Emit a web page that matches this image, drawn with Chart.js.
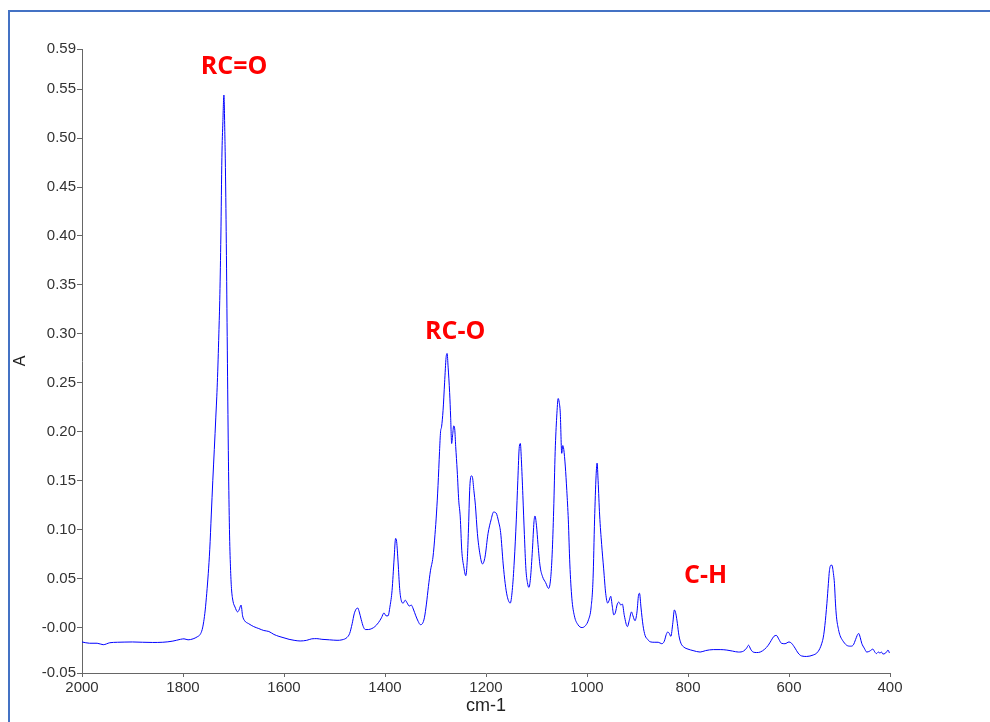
<!DOCTYPE html>
<html>
<head>
<meta charset="utf-8">
<title>IR spectrum</title>
<script src="https://cdn.jsdelivr.net/npm/chart.js@4.4.0/dist/chart.umd.min.js"></script>
<style>
  html, body { margin: 0; padding: 0; background: #fff; }
  #wrap { position: relative; width: 990px; height: 722px; overflow: hidden; }
  #frame { position: absolute; left: 8px; top: 10px; width: 1000px; height: 800px;
           border-top: 2px solid #4472C4; border-left: 2px solid #4472C4; }
  #spectrum { position: absolute; left: 0; top: 0; }
</style>
</head>
<body>
<div id="wrap">
  <div id="frame"></div>
  <canvas id="spectrum" width="990" height="722"></canvas>
</div>
<script>
// wavenumber (cm-1) and absorbance
const wavenumbers = [
  2000, 1985, 1970, 1958, 1945, 1930, 1915, 1900, 1880, 1860, 1840, 1820, 1805, 1798, 1790, 1780, 1772, 1766, 1762, 1759,
  1756, 1753, 1750, 1747, 1744, 1741, 1738, 1735, 1732, 1729, 1727, 1725, 1723, 1721, 1719, 1717, 1716, 1714, 1712, 1710,
  1708, 1706, 1704, 1701, 1697, 1692, 1689, 1685, 1682, 1678, 1670, 1660, 1650, 1640, 1630, 1620, 1610, 1600, 1590, 1580,
  1568, 1555, 1545, 1535, 1525, 1510, 1495, 1485, 1475, 1470, 1465, 1461, 1457, 1454, 1451, 1447, 1443, 1439, 1433, 1426,
  1420, 1413, 1407, 1402, 1398, 1394, 1390, 1386, 1382, 1379, 1377, 1374, 1371, 1368, 1364, 1360, 1356, 1352, 1348, 1344,
  1339, 1334, 1330, 1326, 1322, 1318, 1314, 1310, 1305, 1301, 1298, 1295, 1292, 1290, 1288, 1285, 1282, 1279, 1277, 1275,
  1272, 1270, 1268, 1266, 1264, 1262, 1260, 1257, 1254, 1251, 1248, 1244, 1240, 1237, 1235, 1232, 1229, 1227, 1224, 1221,
  1217, 1212, 1207, 1202, 1196, 1190, 1185, 1180, 1175, 1171, 1166, 1162, 1158, 1152, 1148, 1144, 1140, 1137, 1134, 1132,
  1130, 1127, 1124, 1121, 1118, 1115, 1112, 1108, 1105, 1103, 1100, 1097, 1093, 1088, 1082, 1076, 1072, 1069, 1066, 1063,
  1060, 1057, 1055, 1053, 1050, 1048, 1046, 1043, 1040, 1037, 1034, 1030, 1025, 1018, 1010, 1003, 997, 992, 988, 985,
  982, 980, 978, 975, 971, 967, 963, 959, 956, 953, 950, 947, 944, 940, 937, 933, 930, 926, 920, 916,
  912, 909, 905, 901, 898, 896, 893, 889, 885, 880, 875, 867, 859, 852, 847, 843, 840, 837, 834, 830,
  827, 824, 821, 818, 814, 808, 800, 790, 776, 765, 750, 735, 723, 712, 700, 690, 684, 680, 676, 671,
  664, 657, 648, 641, 635, 630, 625, 620, 615, 608, 600, 595, 588, 582, 575, 565, 552, 545, 539, 535,
  532, 529, 525, 522, 520, 517, 515, 512, 510, 508, 506, 502, 499, 494, 486, 478, 473, 468, 465, 462,
  459, 456, 451, 446, 440, 434, 430, 427, 423, 420, 417, 414, 410, 407, 404, 401
];
const absorbance = [
  -0.0147, -0.016, -0.016, -0.0175, -0.0155, -0.015, -0.0148, -0.0147, -0.015, -0.0152, -0.015, -0.0138, -0.012, -0.0115, -0.0125, -0.0115, -0.0095, -0.007, -0.002, 0.006,
  0.018, 0.035, 0.055, 0.080, 0.115, 0.150, 0.182, 0.215, 0.250, 0.300, 0.340, 0.400, 0.480, 0.517, 0.544, 0.500, 0.470, 0.380, 0.270, 0.170,
  0.100, 0.062, 0.040, 0.027, 0.021, 0.016, 0.018, 0.023, 0.012, 0.007, 0.004, 0.001, -0.001, -0.003, -0.004, -0.007, -0.009, -0.0105, -0.012, -0.013,
  -0.0137, -0.013, -0.0115, -0.0113, -0.012, -0.0125, -0.013, -0.0125, -0.010, -0.006, 0.004, 0.014, 0.019, 0.020, 0.016, 0.008, 0.001, -0.002, -0.002, -0.001,
  0.001, 0.005, 0.010, 0.015, 0.012, 0.012, 0.022, 0.038, 0.070, 0.091, 0.088, 0.066, 0.040, 0.028, 0.025, 0.028, 0.025, 0.022, 0.023, 0.019,
  0.012, 0.006, 0.003, 0.004, 0.010, 0.024, 0.042, 0.058, 0.072, 0.095, 0.117, 0.145, 0.180, 0.200, 0.205, 0.222, 0.250, 0.276, 0.280, 0.266,
  0.240, 0.215, 0.188, 0.197, 0.206, 0.203, 0.185, 0.160, 0.130, 0.113, 0.079, 0.062, 0.053, 0.070, 0.096, 0.144, 0.155, 0.154, 0.140, 0.125,
  0.096, 0.075, 0.065, 0.072, 0.096, 0.110, 0.118, 0.117, 0.108, 0.097, 0.065, 0.045, 0.032, 0.025, 0.038, 0.068, 0.110, 0.150, 0.185, 0.188,
  0.172, 0.135, 0.095, 0.060, 0.046, 0.041, 0.050, 0.080, 0.108, 0.114, 0.104, 0.085, 0.063, 0.052, 0.046, 0.040, 0.050, 0.075, 0.120, 0.180,
  0.215, 0.234, 0.230, 0.220, 0.178, 0.186, 0.182, 0.165, 0.140, 0.110, 0.065, 0.030, 0.012, 0.003, 0.000, 0.002, 0.008, 0.020, 0.050, 0.110,
  0.155, 0.168, 0.150, 0.115, 0.085, 0.060, 0.035, 0.025, 0.028, 0.032, 0.022, 0.013, 0.015, 0.024, 0.026, 0.023, 0.024, 0.012, 0.001, 0.008,
  0.016, 0.012, 0.007, 0.016, 0.033, 0.035, 0.020, 0.002, -0.008, -0.012, -0.0145, -0.015, -0.015, -0.0165, -0.014, -0.007, -0.0045, -0.006, -0.009, 0.005,
  0.018, 0.014, 0.004, -0.008, -0.016, -0.020, -0.022, -0.0235, -0.025, -0.0235, -0.0225, -0.0225, -0.023, -0.024, -0.025, -0.024, -0.021, -0.018, -0.022, -0.025,
  -0.0255, -0.025, -0.022, -0.018, -0.013, -0.009, -0.008, -0.012, -0.016, -0.0165, -0.0147, -0.016, -0.021, -0.026, -0.029, -0.0295, -0.028, -0.026, -0.0215, -0.016,
  -0.0097, 0.002, 0.0245, 0.045, 0.058, 0.0637, 0.0637, 0.055, 0.045, 0.025, 0.011, -0.002, -0.008, -0.013, -0.018, -0.019, -0.018, -0.012, -0.008, -0.006,
  -0.010, -0.016, -0.021, -0.025, -0.024, -0.022, -0.025, -0.0266, -0.025, -0.026, -0.025, -0.027, -0.0265, -0.025, -0.023, -0.026
];

// axis ticks as printed on the original plot
const xTickValues = [2000, 1800, 1600, 1400, 1200, 1000, 800, 600, 400];
const yMin = -0.0464;
const yMax = 0.591;
const yTickValues = [yMin, 0, 0.05, 0.10, 0.15, 0.20, 0.25, 0.30, 0.35, 0.40, 0.45, 0.50, 0.55, yMax];
const yTickLabels = ['-0.05', '-0.00', '0.05', '0.10', '0.15', '0.20', '0.25', '0.30', '0.35', '0.40', '0.45', '0.50', '0.55', '0.59'];

// band assignments written over the peaks
const bandNames = ['RC=O', 'RC-O', 'C-H'];
const bandX = [1699, 1261, 765];
const bandY = [0.573, 0.302, 0.0525];

const bandLabels = {
  id: 'bandLabels',
  afterDatasetsDraw(chart) {
    const ctx = chart.ctx;
    const xs = chart.scales.x, ys = chart.scales.y;
    ctx.save();
    ctx.fillStyle = '#ff0000';
    ctx.font = 'bold 25px "Open Sans"';
    ctx.textAlign = 'center';
    ctx.textBaseline = 'middle';
    bandNames.forEach((name, i) => {
      ctx.fillText(name, xs.getPixelForValue(bandX[i]), ys.getPixelForValue(bandY[i]));
    });
    ctx.restore();
  }
};

const axisColor = '#666666';
const tickFont = { family: '"Liberation Sans", Arial, sans-serif', size: 15 };

new Chart(document.getElementById('spectrum').getContext('2d'), {
  type: 'line',
  data: {
    datasets: [{
      data: wavenumbers.map((w, i) => ({ x: w, y: absorbance[i] })),
      borderColor: '#0000ff',
      borderWidth: 1,
      pointRadius: 0,
      cubicInterpolationMode: 'monotone',
      fill: false
    }]
  },
  options: {
    responsive: false,
    animation: false,
    layout: { padding: { left: 0, top: 49, right: 100, bottom: 0 } },
    plugins: { legend: { display: false }, tooltip: { enabled: false } },
    scales: {
      x: {
        type: 'linear',
        reverse: true,
        min: 400,
        max: 2000,
        afterBuildTicks: scale => { scale.ticks = xTickValues.map(v => ({ value: v })); },
        afterFit: scale => { scale.height = 49; },
        grid: { drawOnChartArea: false, drawTicks: true, tickLength: 4, color: axisColor },
        border: { color: axisColor, width: 1 },
        ticks: { color: '#333', font: tickFont, padding: 2, maxRotation: 0, autoSkip: false,
                 callback: v => String(v) },
        title: { display: true, text: 'cm-1', color: '#222',
                 font: { family: '"Liberation Sans", Arial, sans-serif', size: 18 },
                 padding: { top: 0, bottom: 5 } }
      },
      y: {
        min: yMin,
        max: yMax,
        afterBuildTicks: scale => { scale.ticks = yTickValues.map(v => ({ value: v })); },
        afterFit: scale => { scale.width = 82; },
        grid: { drawOnChartArea: false, drawTicks: true, tickLength: 5, color: axisColor },
        border: { color: axisColor, width: 1 },
        ticks: { color: '#333', font: tickFont, padding: 1, autoSkip: false,
                 callback: (v, i) => yTickLabels[i] },
        title: { display: true, text: 'A', color: '#222',
                 font: { family: '"Liberation Sans", Arial, sans-serif', size: 16 },
                 padding: { top: 11, bottom: 0 } }
      }
    }
  },
  plugins: [bandLabels]
});
</script>
</body>
</html>
